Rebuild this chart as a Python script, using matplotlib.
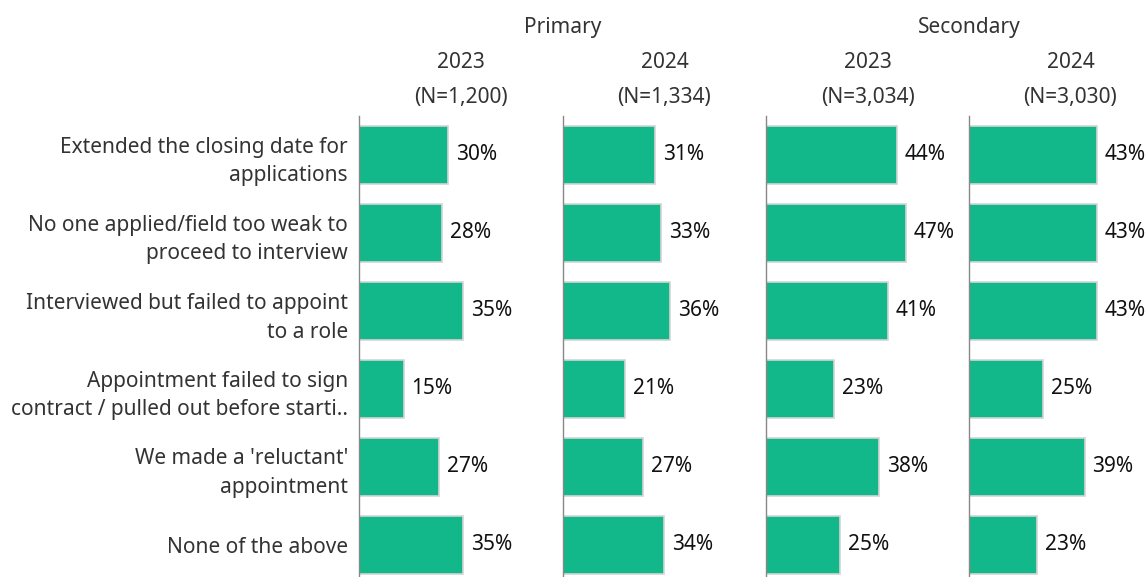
import matplotlib.pyplot as plt

# categories (top to bottom)
categories = [
    "Extended the closing date for\napplications",
    "No one applied/field too weak to\nproceed to interview",
    "Interviewed but failed to appoint\nto a role",
    "Appointment failed to sign\ncontract / pulled out before starti..",
    "We made a 'reluctant'\nappointment",
    "None of the above",
]

phases = ["Primary", "Primary", "Secondary", "Secondary"]
years = ["2023", "2024", "2023", "2024"]
sizes = ["(N=1,200)", "(N=1,334)", "(N=3,034)", "(N=3,030)"]

primary_2023 = [30, 28, 35, 15, 27, 35]
primary_2024 = [31, 33, 36, 21, 27, 34]
secondary_2023 = [44, 47, 41, 23, 38, 25]
secondary_2024 = [43, 43, 43, 25, 39, 23]
series = [primary_2023, primary_2024, secondary_2023, secondary_2024]

BAR = "#12b88a"
EDGE = "#d4d4d4"
TXT = "#333333"

plt.rcParams['font.family'] = ['Noto Sans', 'DejaVu Sans']

W, H = 1148, 577
fig = plt.figure(figsize=(W / 100, H / 100), dpi=100)

lefts = [359, 563, 766, 969]
pw = 203
top_px, bot_px = 116, 584
px_per_pct = 2.97

for i, vals in enumerate(series):
    ax = fig.add_axes([lefts[i] / W, (H - bot_px) / H, pw / W, (bot_px - top_px) / H])
    ax.set_xlim(0, pw / px_per_pct)
    ax.set_ylim(len(categories) - 0.5, -0.5)
    ypos = list(range(len(categories)))
    ax.barh(ypos, vals, height=0.74, color=BAR, edgecolor=EDGE, linewidth=1.2)
    for y, v in zip(ypos, vals):
        ax.text(v + 2.6, y, f"{v}%", va="center", ha="left", fontsize=15, color="#111111")
    for s in ["top", "right", "bottom"]:
        ax.spines[s].set_visible(False)
    ax.spines["left"].set_color("#888888")
    ax.spines["left"].set_linewidth(1)
    ax.set_xticks([])
    if i == 0:
        ax.set_yticks(ypos)
        ax.set_yticklabels(categories, fontsize=15, color=TXT, linespacing=1.5)
        ax.tick_params(axis="y", length=0, pad=8)
    else:
        ax.set_yticks([])

    cx = (lefts[i] + pw / 2) / W
    fig.text(cx, 1 - 62 / H, years[i], ha="center", va="center", fontsize=15, color=TXT)
    fig.text(cx, 1 - 97 / H, sizes[i], ha="center", va="center", fontsize=15, color=TXT)

# group headers
for j in range(2):
    a, b = lefts[2 * j], lefts[2 * j + 1] + pw
    fig.text((a + b) / 2 / W, 1 - 28 / H, phases[2 * j], ha="center", va="center",
             fontsize=15, color=TXT)

fig.savefig("out.png", dpi=100)
